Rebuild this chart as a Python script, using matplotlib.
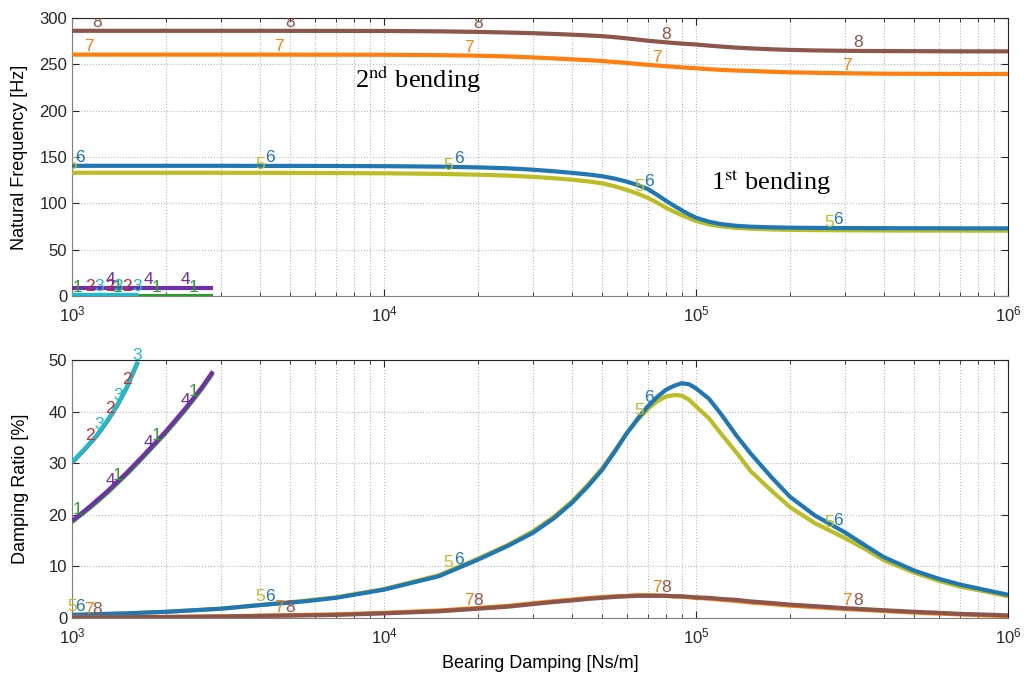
import numpy as np
import matplotlib
matplotlib.use("Agg")
import matplotlib.pyplot as plt
from matplotlib.ticker import MultipleLocator, NullFormatter, LogLocator

plt.rcParams['font.family'] = ['Liberation Sans', 'DejaVu Sans']
plt.rcParams['mathtext.fontset'] = 'stix'

# bearing damping [Ns/m] for modes 5-8
c_hi = [1e3, 1.5e3, 2e3, 3e3, 4e3, 5.5e3, 7e3, 1e4, 1.5e4, 2e4, 2.5e4, 3e4, 3.5e4, 4e4,
        4.5e4, 5e4, 5.5e4, 6e4, 6.5e4, 7e4, 7.5e4, 8e4, 8.5e4, 9e4, 9.5e4, 1e5, 1.1e5,
        1.2e5, 1.35e5, 1.5e5, 1.75e5, 2e5, 2.4e5, 3e5, 3.5e5, 4e5, 5e5, 6e5, 7e5, 8.5e5, 1e6]

# natural frequencies [Hz]
f5 = [133.0, 133.0, 133.0, 133.0, 132.9, 132.8, 132.7, 132.4, 131.8, 130.9, 129.9, 128.6,
      127.1, 125.5, 123.7, 121.6, 118.3, 114.5, 110.4, 106.0, 100.8, 95.4, 91.0, 87.2, 84.0,
      81.0, 77.3, 75.2, 73.5, 72.6, 71.8, 71.4, 71.1, 70.9, 70.8, 70.7, 70.6, 70.6, 70.5,
      70.5, 70.5]
f6 = [140.5, 140.5, 140.5, 140.5, 140.4, 140.4, 140.3, 140.1, 139.6, 138.8, 137.8, 136.3,
      134.6, 132.9, 131.2, 129.3, 126.6, 123.4, 119.8, 115.5, 109.3, 102.9, 97.4, 92.5, 88.1,
      84.5, 80.2, 77.6, 75.7, 74.8, 74.1, 73.7, 73.5, 73.3, 73.2, 73.2, 73.1, 73.1, 73.0,
      73.0, 73.0]
f7 = [260.5, 260.5, 260.5, 260.5, 260.5, 260.4, 260.4, 260.3, 259.9, 259.3, 258.5, 257.5,
      256.4, 255.4, 254.5, 253.6, 252.5, 251.5, 250.4, 249.5, 248.7, 248.0, 247.3, 246.7,
      246.2, 245.7, 244.8, 244.0, 243.3, 242.8, 242.0, 241.4, 240.9, 240.4, 240.1, 239.9,
      239.8, 239.7, 239.6, 239.6, 239.6]
f8 = [286.2, 286.2, 286.2, 286.2, 286.2, 286.1, 286.1, 286.0, 285.6, 285.0, 284.3, 283.6,
      282.8, 282.0, 281.2, 280.4, 279.3, 278.0, 276.7, 275.5, 274.6, 273.8, 273.0, 272.4,
      271.9, 271.4, 270.2, 269.2, 268.0, 267.2, 266.2, 265.6, 265.0, 264.6, 264.4, 264.3,
      264.2, 264.1, 264.0, 264.0, 264.0]

# damping ratios [%]
z5 = [0.6, 0.9, 1.2, 1.8, 2.5, 3.3, 4.0, 5.6, 8.3, 11.5, 14.2, 16.8, 19.6, 22.6, 25.8, 29.0,
      32.5, 35.8, 38.4, 40.5, 42.0, 42.9, 43.2, 43.1, 42.3, 41.0, 38.7, 35.8, 32.0, 28.4,
      24.6, 21.5, 18.4, 15.5, 13.3, 11.2, 8.8, 7.2, 6.1, 5.1, 4.2]
z6 = [0.6, 0.9, 1.2, 1.8, 2.5, 3.2, 3.9, 5.5, 8.1, 11.3, 14.0, 16.5, 19.3, 22.3, 25.5, 28.7,
      32.3, 35.8, 38.6, 41.0, 42.8, 44.2, 45.0, 45.5, 45.3, 44.5, 42.5, 39.6, 35.3, 31.8,
      27.2, 23.5, 19.9, 16.6, 14.0, 11.8, 9.2, 7.6, 6.5, 5.4, 4.5]
z7 = [0.1, 0.15, 0.2, 0.3, 0.45, 0.6, 0.7, 1.0, 1.45, 1.95, 2.35, 2.85, 3.25, 3.55, 3.85,
      4.05, 4.2, 4.3, 4.4, 4.4, 4.35, 4.3, 4.2, 4.15, 4.0, 3.9, 3.75, 3.55, 3.3, 3.0, 2.7,
      2.4, 2.1, 1.75, 1.55, 1.35, 1.05, 0.85, 0.7, 0.5, 0.35]
z8 = [0.1, 0.15, 0.2, 0.3, 0.4, 0.5, 0.6, 0.9, 1.3, 1.8, 2.2, 2.7, 3.1, 3.4, 3.7, 3.9, 4.1,
      4.2, 4.3, 4.3, 4.3, 4.3, 4.2, 4.2, 4.1, 4.0, 3.9, 3.7, 3.5, 3.2, 2.9, 2.6, 2.3, 1.9,
      1.7, 1.5, 1.2, 1.0, 0.8, 0.65, 0.5]

# low modes (only exist at small bearing damping)
c_14 = [1000, 1150, 1300, 1500, 1700, 2000, 2300, 2600, 2830]
f1 = [0.3, 0.3, 0.3, 0.3, 0.3, 0.3, 0.3, 0.3, 0.3]
f4 = [9.0, 9.0, 9.0, 9.0, 9.0, 9.0, 9.0, 9.0, 9.0]
z1 = [18.6, 21.5, 24.3, 27.9, 31.3, 35.9, 40.2, 44.3, 47.5]
z4 = [18.8, 21.8, 24.6, 28.2, 31.6, 36.2, 40.5, 44.6, 47.8]

c_23 = [1000, 1100, 1200, 1300, 1400, 1500, 1625]
f2 = [1.0, 1.0, 1.0, 1.0, 1.0, 1.0, 1.0]
f3 = [1.0, 1.0, 1.0, 1.0, 1.0, 1.0, 1.0]
z2 = [30.1, 32.7, 35.3, 38.2, 41.3, 44.7, 49.6]
z3 = [30.2, 32.8, 35.4, 38.3, 41.4, 44.8, 49.7]

# where the mode numbers are written along each curve
lab_x = {
    1: [1045, 1394, 1860, 2443],
    2: [1142, 1324, 1500],
    3: [1220, 1404, 1615],
    4: [1324, 1752, 2302],
    5: [1000, 4.0e3, 1.61e4, 6.57e4, 2.68e5],
    6: [1060, 4.31e3, 1.74e4, 7.06e4, 2.86e5],
    7: [1130, 4.6e3, 1.87e4, 7.5e4, 3.05e5],
    8: [1200, 5.0e3, 2.0e4, 8.0e4, 3.3e5],
}

colors = {1: '#2ca02c', 2: '#d62728', 3: '#17becf', 4: '#7030a8',
          5: '#bcbd22', 6: '#1f77b4', 7: '#ff7f0e', 8: '#8c564b'}

modes = [
    (1, c_14, f1, z1), (2, c_23, f2, z2), (3, c_23, f3, z3), (4, c_14, f4, z4),
    (5, c_hi, f5, z5), (6, c_hi, f6, z6), (7, c_hi, f7, z7), (8, c_hi, f8, z8),
]

fig = plt.figure(figsize=(10.24, 6.77), dpi=100)
ax1 = fig.add_axes([72 / 1024, 1 - 296 / 677, 936 / 1024, 278 / 677])
ax2 = fig.add_axes([72 / 1024, 1 - 618 / 677, 936 / 1024, 258 / 677])

for ax, which, clip in [(ax1, 2, True), (ax2, 3, False)]:
    for m in modes:
        k, c, f, z = m[0], m[1], m[2], m[3]
        y = f if which == 2 else z
        ax.plot(c, y, color=colors[k], lw=3, solid_capstyle='butt', zorder=3)
    for m in modes:
        k, c, f, z = m[0], m[1], m[2], m[3]
        y = f if which == 2 else z
        for xl in lab_x[k]:
            yl = np.interp(np.log10(xl), np.log10(c), y)
            ax.annotate(str(k), (xl, yl), xytext=(0, 0.5), textcoords='offset points',
                        ha='center', va='bottom', color=colors[k], fontsize=12.5,
                        annotation_clip=False, clip_on=clip, zorder=4)

for ax in (ax1, ax2):
    ax.set_xscale('log')
    ax.set_xlim(1e3, 1e6)
    ax.xaxis.set_major_locator(LogLocator(base=10, numticks=10))
    ax.xaxis.set_minor_locator(LogLocator(base=10, subs=np.arange(2, 10), numticks=10))
    ax.xaxis.set_minor_formatter(NullFormatter())
    ax.grid(True, which='major', axis='both', ls=':', color='#b8b8b8', lw=0.8)
    ax.grid(True, which='minor', axis='x', ls=':', color='#b8b8b8', lw=0.8)
    ax.set_axisbelow(True)
    ax.tick_params(which='both', direction='in', top=True, right=True,
                   labelsize=12, colors='#262626')
    ax.tick_params(axis='x', which='major', pad=6)
    ax.tick_params(which='major', length=5)
    ax.tick_params(which='minor', length=3)
    for s in ('left', 'bottom'):
        ax.spines[s].set_color('#808080')
    for s in ('top', 'right'):
        ax.spines[s].set_color('#262626')

ax1.set_ylim(0, 300)
ax1.yaxis.set_major_locator(MultipleLocator(50))
ax1.set_ylabel('Natural Frequency [Hz]', fontsize=13, labelpad=8)

ax2.set_ylim(0, 50)
ax2.yaxis.set_major_locator(MultipleLocator(10))
ax2.set_ylabel('Damping Ratio [%]', fontsize=13, labelpad=14)
ax2.set_xlabel('Bearing Damping [Ns/m]', fontsize=13, labelpad=6)

ax1.text(8.07e3, 224, r'2$^{\mathrm{nd}}$ bending', fontsize=19, family='Liberation Serif',
         va='baseline', ha='left')
ax1.text(1.117e5, 114, r'1$^{\mathrm{st}}$ bending', fontsize=19, family='Liberation Serif',
         va='baseline', ha='left')

fig.savefig('out.png', dpi=100)
